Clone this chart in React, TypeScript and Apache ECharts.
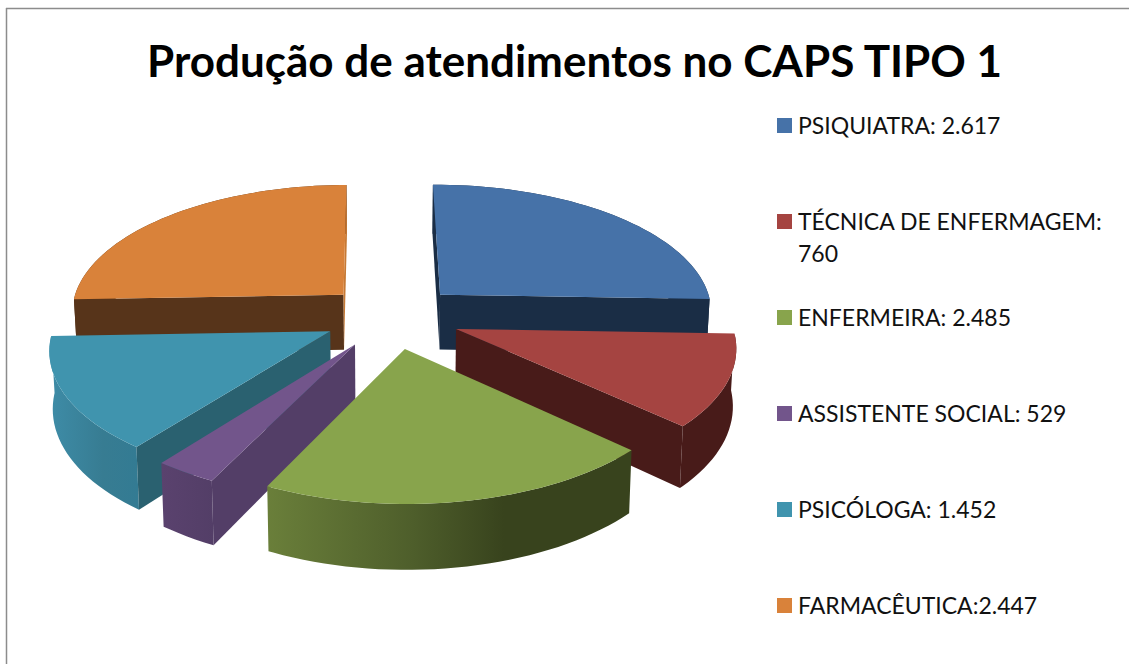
import React, { useEffect, useRef } from "react";
import * as echarts from "echarts";

const titleText = "Produção de atendimentos no CAPS TIPO 1";
const categories = ["PSIQUIATRA", "TÉCNICA DE ENFERMAGEM", "ENFERMEIRA", "ASSISTENTE SOCIAL", "PSICÓLOGA", "FARMACÊUTICA"];
const legendLines = [
  ["PSIQUIATRA: 2.617"],
  ["TÉCNICA DE ENFERMAGEM:", "760"],
  ["ENFERMEIRA: 2.485"],
  ["ASSISTENTE SOCIAL: 529"],
  ["PSICÓLOGA: 1.452"],
  ["FARMACÊUTICA:2.447"],
];
// Slice sizes as drawn in the picture, in degrees of the circle
const drawnShares = [92.5, 41, 73, 11.5, 50.5, 91.5];
const drawOrder = [5, 0, 1, 4, 3, 2];

const topColors = ["#4672A8", "#A54441", "#88A44C", "#72558B", "#4094AE", "#D9823A"];
const startWallColors = ["#1A2D45", "#481B19", "#38431D", "#533E67", "#2A6170", "#57341A"];
const endWallColors = ["#1A2D45", "#481B19", "#38431D", "#533E67", "#2A6170", "#C77A35"];
const arcWallStops: [number, string][][] = [
  [[0, "#1A2D45"], [1, "#1A2D45"]],
  [[0, "#481B19"], [1, "#481B19"]],
  [[0, "#6A7F3A"], [0.4, "#4E5E2B"], [0.65, "#38431D"], [1, "#38431D"]],
  [[0, "#5A426E"], [1, "#533E67"]],
  [[0, "#3E8CA7"], [0.6, "#377C92"], [1, "#337B93"]],
  [[0, "#57341A"], [1, "#57341A"]],
];

const START = -0.5;
const CX = 392;
const CY = 316.5;
const RX = 274;
const RY = 128;
const K = 0.12;
const DEPTH = 56;
const EXPLODE = 0.25;
const STEP = 2;

const starts: number[] = [];
drawnShares.reduce((acc, v) => {
  starts.push(acc);
  return acc + v;
}, START);

const rad = (d: number) => (d * Math.PI) / 180;
const project = (x: number, y: number, z: number): [number, number] => {
  const s = 1 / (1 - K * y);
  return [CX + RX * x * s * (1 - 0.01 * z), CY + RY * y * s + DEPTH * z * s];
};
const cross = (a: number[], b: number[], c: number[]) =>
  (b[0] - a[0]) * (c[1] - a[1]) - (b[1] - a[1]) * (c[0] - a[0]);

function renderSlice(params: any, api: any) {
  const i = drawOrder[params.dataIndex];
  const share = api.value(0);
  const a0 = starts[i];
  const a1 = a0 + share;
  const mid = rad((a0 + a1) / 2);
  const ex = Math.sin(mid) * EXPLODE;
  const ey = -Math.cos(mid) * EXPLODE;
  const arcAngles: number[] = [];
  for (let a = a0; a < a1; a += STEP) arcAngles.push(a);
  arcAngles.push(a1);
  const arc = (z: number) =>
    arcAngles.map((a) => project(ex + Math.sin(rad(a)), ey - Math.cos(rad(a)), z));
  const topArc = arc(0);
  const botArc = arc(1);
  const apexT = project(ex, ey, 0);
  const apexB = project(ex, ey, 1);
  const first = 0;
  const last = topArc.length - 1;
  const children: any[] = [
    {
      type: "polygon",
      shape: { points: [...topArc, ...botArc.slice().reverse()] },
      style: {
        fill: new echarts.graphic.LinearGradient(
          0, 0, 1, 0,
          arcWallStops[i].map(([offset, color]) => ({ offset, color })),
        ),
      },
    },
  ];
  if (cross(apexT, topArc[first], botArc[first]) < 0) {
    children.push({
      type: "polygon",
      shape: { points: [apexT, topArc[first], botArc[first], apexB] },
      style: { fill: startWallColors[i] },
    });
  }
  if (cross(apexT, topArc[last], botArc[last]) > 0) {
    children.push({
      type: "polygon",
      shape: { points: [apexT, topArc[last], botArc[last], apexB] },
      style: { fill: endWallColors[i] },
    });
  }
  children.push({
    type: "polygon",
    shape: { points: [apexT, ...topArc] },
    style: { fill: topColors[i] },
  });
  return { type: "group", children };
}

const LEGEND_FONT = 23;
const legendGraphics: any[] = [];
legendLines.forEach((lines, i) => {
  const y = 125 + i * 96;
  legendGraphics.push({
    type: "rect",
    shape: { x: 777, y: y - 7, width: 15, height: 15 },
    style: { fill: topColors[i] },
  });
  lines.forEach((line, j) => {
    legendGraphics.push({
      type: "text",
      x: 798,
      y: y + j * 32,
      style: {
        text: line,
        fill: "#111111",
        font: `${LEGEND_FONT}px Lato`,
        textVerticalAlign: "middle",
      },
    });
  });
});

export default function App() {
  const ref = useRef<HTMLDivElement>(null);
  useEffect(() => {
    const chart = echarts.init(ref.current!, null, { renderer: "svg" });
    chart.setOption({
      animation: false,
      backgroundColor: "#ffffff",
      title: {
        text: titleText,
        left: 142,
        top: 33,
        textStyle: { fontFamily: "Lato", fontWeight: "bold", fontSize: 44, color: "#000000" },
      },
      graphic: [
        { type: "line", shape: { x1: 6.5, y1: 8, x2: 6.5, y2: 664 }, style: { stroke: "#8C8C8C", lineWidth: 1.5 } },
        { type: "line", shape: { x1: 6, y1: 8.5, x2: 1129, y2: 8.5 }, style: { stroke: "#8C8C8C", lineWidth: 1.5 } },
        ...legendGraphics,
      ],
      series: [
        {
          type: "custom",
          coordinateSystem: "none",
          silent: true,
          renderItem: renderSlice,
          data: drawOrder.map((i) => ({ name: categories[i], value: [drawnShares[i]] })),
        },
      ],
    });
    return () => chart.dispose();
  }, []);
  return <div ref={ref} style={{ position: "fixed", left: 0, top: 0, width: 1129, height: 664 }} />;
}
